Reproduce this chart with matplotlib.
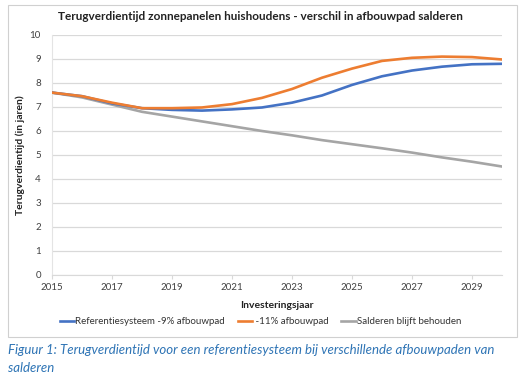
import matplotlib.pyplot as plt
from matplotlib.patches import Rectangle

plt.rcParams['font.family'] = ['Lato', 'DejaVu Sans']

# data
years = list(range(2015, 2031))
referentie = [7.6, 7.45, 7.15, 6.95, 6.88, 6.85, 6.9, 6.98, 7.18, 7.48, 7.92, 8.28, 8.52, 8.68, 8.78, 8.8]
afbouw_11 = [7.6, 7.45, 7.18, 6.95, 6.95, 6.98, 7.12, 7.38, 7.75, 8.22, 8.6, 8.92, 9.05, 9.1, 9.08, 8.98]
salderen = [7.6, 7.4, 7.1, 6.8, 6.6, 6.4, 6.2, 6.0, 5.82, 5.62, 5.45, 5.28, 5.1, 4.9, 4.72, 4.52]

labels = ['Referentiesysteem -9% afbouwpad', ' -11% afbouwpad', 'Salderen blijft behouden']
colors = ['#4472C4', '#ED7D31', '#A5A5A5']
x_ticks = [2015, 2017, 2019, 2021, 2023, 2025, 2027, 2029]

W, H = 521, 376
fig = plt.figure(figsize=(W / 100, H / 100), dpi=100)

# chart frame
fig.patches.append(Rectangle((8 / W, 1 - 337 / H), 509 / W, 332 / H, transform=fig.transFigure,
                             fill=False, edgecolor='#D0D0D0', linewidth=0.8))

ax = fig.add_axes([52 / W, 1 - 275 / H, 450 / W, 240 / H])

ax.plot(years, salderen, color=colors[2], lw=1.9, label=labels[2], zorder=3)
ax.plot(years, referentie, color=colors[0], lw=1.9, label=labels[0], zorder=4)
ax.plot(years, afbouw_11, color=colors[1], lw=1.9, label=labels[1], zorder=5)

ax.set_xlim(2015, 2030)
ax.set_ylim(0, 10)
ax.set_xticks(x_ticks)
ax.set_yticks(range(0, 11))
ax.grid(axis='y', color='#D9D9D9', lw=0.9)
ax.set_axisbelow(True)
for s in ['top', 'right']:
    ax.spines[s].set_visible(False)
ax.spines['left'].set_color('#E4E4E4')
ax.spines['bottom'].set_color('#D9D9D9')
ax.tick_params(axis='y', length=0, labelsize=7, labelcolor='#404040', pad=8)
ax.tick_params(axis='x', length=3, color='#D9D9D9', labelsize=7, labelcolor='#404040', pad=3)

ax.set_xlabel('Investeringsjaar', fontsize=7.5, fontweight='bold', color='#222222', labelpad=6)
ax.set_ylabel('Terugverdientijd (in jaren)', fontsize=7.5, fontweight='bold', color='#222222', labelpad=3)

fig.text(0.5, 1 - 17 / H, 'Terugverdientijd zonnepanelen huishoudens - verschil in afbouwpad salderen',
         ha='center', va='center', fontsize=8.5, fontweight='bold', color='#222222')

handles, labs = ax.get_legend_handles_labels()
order = [labs.index(l) for l in labels]
fig.legend([handles[i] for i in order], labels, loc='center', bbox_to_anchor=(0.5, 1 - 322 / H),
           ncol=3, frameon=False, fontsize=7, handlelength=1.5, handletextpad=0.1,
           columnspacing=1.3, labelcolor='#333333')

cap_color = '#2E74B5'
fig.text(8 / W, 1 - 350 / H, 'Figuur 1: Terugverdientijd voor een referentiesysteem bij verschillende afbouwpaden van',
         fontsize=9.5, style='italic', color=cap_color, va='center')
fig.text(8 / W, 1 - 368 / H, 'salderen', fontsize=9.5, style='italic', color=cap_color, va='center')

fig.savefig('out.png', dpi=100)
